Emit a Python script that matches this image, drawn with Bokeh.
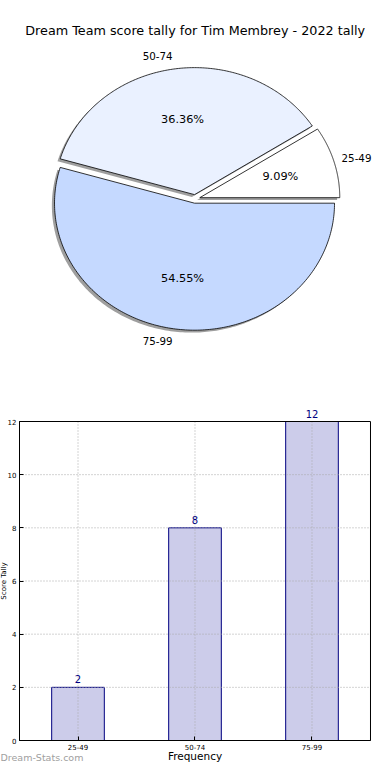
import numpy as np
from bokeh.plotting import figure
from bokeh.models import Range1d, Label, LabelSet, ColumnDataSource
from bokeh.layouts import column
from bokeh.embed import file_html
from bokeh.resources import INLINE
from bokeh.core.properties import value

# ---- data ----
title_text = "Dream Team score tally for Tim Membrey - 2022 tally"
categories = ["25-49", "50-74", "75-99"]
counts = [2, 8, 12]
pie_colors = ["#ffffff", "#eaf1ff", "#c5d9ff"]
y_ticks = [0, 2, 4, 6, 8, 10, 12]
x_label = "Frequency"
y_label = "Score Tally"
watermark = "Dream-Stats.com"

FONT = "DejaVu Sans"
W = 374
explode = 0.034

# ---- pie ----
vals = np.array(counts, dtype=float)
fracs = vals / vals.sum()
ends = np.cumsum(fracs) * 2 * np.pi
starts = ends - fracs * 2 * np.pi
mids = (starts + ends) / 2

xs, ys, sxs, sys_ = [], [], [], []
sh_dx, sh_dy = -0.019, -0.019
for s, e, m in zip(starts, ends, mids):
    cx, cy = explode * np.cos(m), explode * np.sin(m)
    t = np.linspace(s, e, 200)
    px = np.concatenate([[cx], cx + np.cos(t)])
    py = np.concatenate([[cy], cy + np.sin(t)])
    xs.append(px.tolist()); ys.append(py.tolist())
    sxs.append((px + sh_dx).tolist()); sys_.append((py + sh_dy).tolist())

pie = figure(width=W, height=388, x_range=Range1d(-1.3907, 1.2807),
             y_range=Range1d(-1.4929, 1.5622), x_axis_type=None, y_axis_type=None,
             min_border=0, toolbar_location=None, output_backend="svg")
pie.grid.visible = False
pie.outline_line_color = None

pie.patches(xs=sxs, ys=sys_, fill_color="#7f7f7f", fill_alpha=0.75, line_color=None)
pie.patches(xs=xs, ys=ys, fill_color=pie_colors, line_color="black", line_width=0.8)

lab_r = 1.1 + explode
pct_r = 0.6 + explode
cosm = np.cos(mids)
lab_src = ColumnDataSource(dict(
    x=(lab_r * cosm).tolist(), y=(lab_r * np.sin(mids)).tolist(), text=categories,
    align=["left" if c > 0 else "right" for c in cosm],
    xoff=[-6 if c > 0 else 0 for c in cosm]))
pie.text(x="x", y="y", text="text", text_align="align", x_offset="xoff", source=lab_src,
         text_baseline="middle", text_font=value(FONT), text_font_size="10.3px",
         text_color="black")
pct_text = ["%.2f%%" % (f * 100) for f in fracs]
pie.text(x=(pct_r * cosm).tolist(), y=(pct_r * np.sin(mids)).tolist(), text=pct_text,
         text_align="center", text_baseline="middle",
         text_font=value(FONT), text_font_size="11.3px", text_color="black")

pie.add_layout(Label(x=0, y=1.326, text=title_text, text_align="center", text_baseline="middle",
                     text_font=FONT, text_font_size="12.75px", text_color="black"))

# ---- bar ----
idx = list(range(len(categories)))
ymax = y_ticks[-1]
xl, xr = idx[0] - 0.5, idx[-1] + 0.5
x0, x1 = -0.6624, 2.5342
bar = figure(width=W, height=376, x_range=Range1d(x0, x1), y_range=Range1d(-0.9028, 13.2414),
             min_border=0, toolbar_location=None, output_backend="svg")
bar.outline_line_color = None
bar.grid.visible = False
src = ColumnDataSource(dict(x=idx, cnt=counts, txt=[str(c) for c in counts]))

bar.vbar(x="x", top="cnt", width=0.45, source=src, fill_color="#ccccea",
         line_color="#000080", line_width=1)
grid_style = dict(line_color="#a8a8a8", line_dash="1 2", line_width=1)
gy = y_ticks[1:-1]
bar.segment(x0=[xl] * len(gy), x1=[xr] * len(gy), y0=gy, y1=gy, **grid_style)
bar.segment(x0=idx, x1=idx, y0=[y_ticks[0]] * len(idx), y1=[ymax] * len(idx), **grid_style)
bar.quad(left=[xl], right=[xr], bottom=[y_ticks[0]], top=[ymax],
         fill_color=None, line_color="black", line_width=1)
bar.add_layout(LabelSet(x="x", y="cnt", text="txt", source=src, text_align="center",
                        text_baseline="alphabetic", y_offset=4, text_font=value(FONT),
                        text_font_size=value("10px"), text_color=value("#000080")))

bar.xaxis.ticker = idx
bar.xaxis.major_label_overrides = {i: c for i, c in zip(idx, categories)}
bar.xaxis.fixed_location = y_ticks[0]
bar.xaxis.bounds = (xl, xr)
bar.yaxis.ticker = y_ticks
bar.yaxis.fixed_location = xl
bar.yaxis.bounds = (y_ticks[0], ymax)
for ax in (bar.xaxis, bar.yaxis):
    ax.major_tick_in = 4
    ax.major_tick_out = 0
    ax.minor_tick_line_color = None
    ax.axis_line_color = "black"
    ax.major_tick_line_color = "black"
    ax.major_label_text_font = FONT
    ax.major_label_text_font_size = "7px"
    ax.major_label_text_color = "black"
    ax.major_label_standoff = 3

bar.add_layout(Label(x=(xl + xr) / 2, y=-0.6, text=x_label, text_align="center",
                     text_baseline="middle", text_font=FONT, text_font_size="10.5px",
                     text_color="black"))
bar.add_layout(Label(x=x0 + 4.0 / 117, y=ymax / 2, text=y_label, angle=np.pi / 2,
                     text_align="center", text_baseline="middle", text_font=FONT,
                     text_font_size="7px", text_color="black"))
bar.add_layout(Label(x=x0, y=-0.64, text=watermark, text_align="left",
                     text_baseline="middle", text_font=FONT, text_font_size="9.5px",
                     text_color="#a0a0a0"))

layout = column(pie, bar, spacing=0)
open("out.html", "w").write(file_html(layout, INLINE))
